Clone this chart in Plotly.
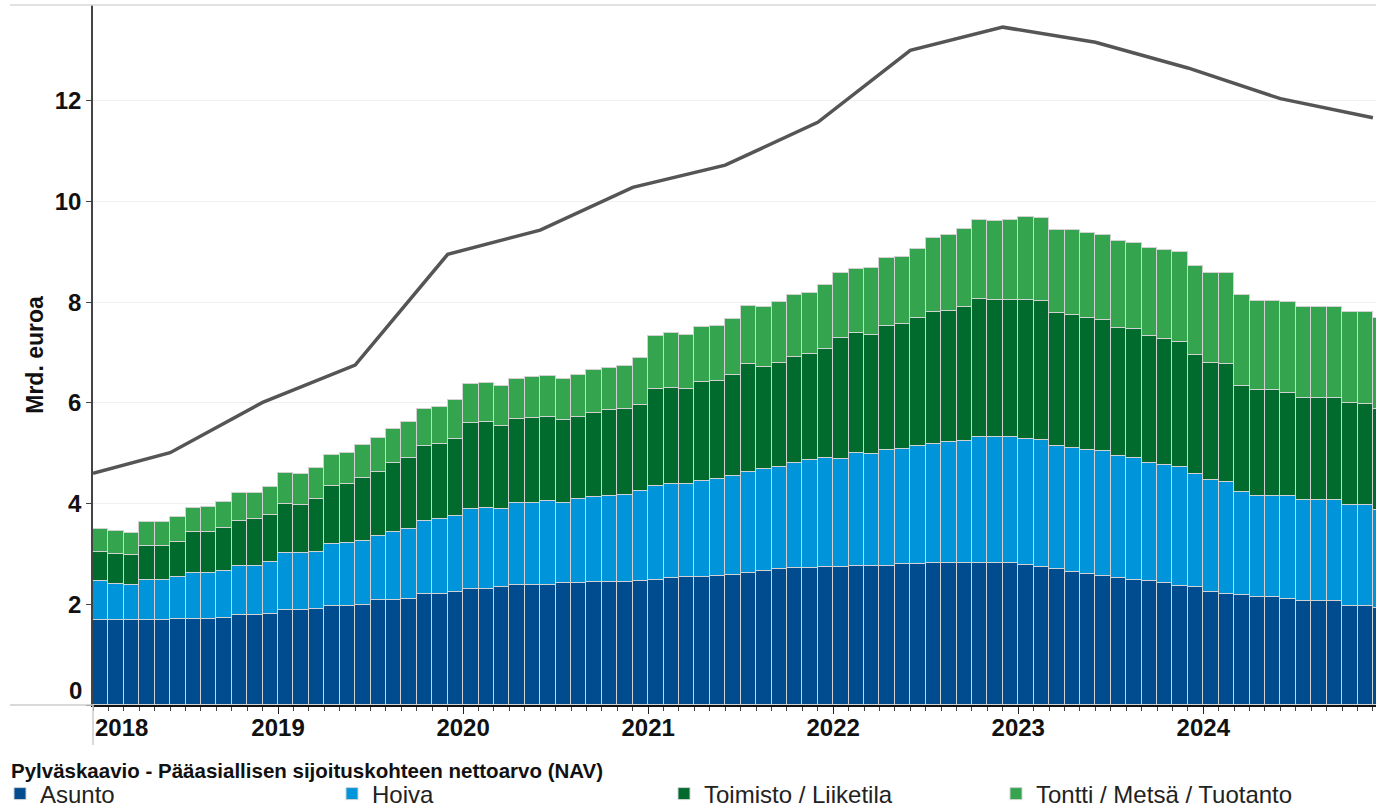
import plotly.graph_objects as go

# Monthly categories, Jan 2018 .. Dec 2024
months = [f"{y}-{m:02d}" for y in range(2018, 2025) for m in range(1, 13)]

# Stacked bar values (Mrd. euroa), one per month
asunto = [1.68, 1.68, 1.68, 1.68, 1.68, 1.70, 1.70, 1.70, 1.73, 1.78, 1.78, 1.81,
          1.88, 1.88, 1.91, 1.96, 1.96, 1.98, 2.09, 2.09, 2.11, 2.21, 2.21, 2.24,
          2.31, 2.31, 2.34, 2.39, 2.39, 2.39, 2.42, 2.42, 2.44, 2.44, 2.44, 2.46,
          2.49, 2.52, 2.54, 2.54, 2.56, 2.59, 2.62, 2.67, 2.70, 2.72, 2.72, 2.74,
          2.74, 2.77, 2.77, 2.77, 2.80, 2.80, 2.82, 2.82, 2.82, 2.82, 2.82, 2.82,
          2.78, 2.75, 2.70, 2.65, 2.60, 2.57, 2.52, 2.49, 2.46, 2.42, 2.36, 2.34,
          2.24, 2.21, 2.19, 2.14, 2.14, 2.11, 2.06, 2.06, 2.06, 1.96, 1.96, 1.93]
hoiva = [0.78, 0.73, 0.70, 0.80, 0.80, 0.84, 0.92, 0.92, 0.94, 0.99, 0.99, 1.02,
         1.13, 1.13, 1.12, 1.23, 1.25, 1.28, 1.27, 1.35, 1.38, 1.45, 1.48, 1.51,
         1.58, 1.61, 1.55, 1.63, 1.63, 1.66, 1.60, 1.68, 1.69, 1.71, 1.73, 1.79,
         1.86, 1.86, 1.84, 1.91, 1.92, 1.96, 2.01, 2.01, 2.03, 2.09, 2.14, 2.17,
         2.15, 2.24, 2.22, 2.30, 2.29, 2.34, 2.37, 2.40, 2.42, 2.50, 2.50, 2.50,
         2.51, 2.52, 2.44, 2.46, 2.47, 2.47, 2.42, 2.42, 2.35, 2.34, 2.37, 2.24,
         2.22, 2.22, 2.04, 2.01, 2.01, 2.04, 2.01, 2.01, 2.01, 2.01, 2.01, 1.94]
toimisto = [0.58, 0.59, 0.59, 0.67, 0.67, 0.69, 0.82, 0.82, 0.84, 0.89, 0.92, 0.94,
            0.98, 0.96, 1.07, 1.16, 1.17, 1.24, 1.26, 1.36, 1.42, 1.48, 1.50, 1.54,
            1.71, 1.70, 1.65, 1.65, 1.68, 1.67, 1.63, 1.62, 1.67, 1.70, 1.70, 1.70,
            1.93, 1.92, 1.90, 1.97, 1.96, 2.01, 2.14, 2.04, 2.06, 2.11, 2.11, 2.16,
            2.39, 2.37, 2.36, 2.46, 2.47, 2.54, 2.62, 2.61, 2.67, 2.74, 2.72, 2.72,
            2.75, 2.75, 2.65, 2.63, 2.62, 2.60, 2.54, 2.55, 2.52, 2.50, 2.48, 2.37,
            2.34, 2.35, 2.11, 2.10, 2.10, 2.05, 2.03, 2.03, 2.03, 2.03, 2.00, 2.00]
tontti = [0.46, 0.45, 0.45, 0.49, 0.49, 0.51, 0.47, 0.50, 0.53, 0.54, 0.51, 0.55,
          0.61, 0.61, 0.61, 0.61, 0.63, 0.66, 0.69, 0.69, 0.71, 0.73, 0.73, 0.76,
          0.78, 0.78, 0.80, 0.81, 0.81, 0.82, 0.83, 0.84, 0.86, 0.84, 0.87, 0.94,
          1.04, 1.08, 1.07, 1.08, 1.09, 1.10, 1.16, 1.19, 1.22, 1.22, 1.22, 1.27,
          1.29, 1.27, 1.32, 1.34, 1.34, 1.37, 1.47, 1.50, 1.55, 1.58, 1.58, 1.60,
          1.66, 1.65, 1.65, 1.70, 1.69, 1.69, 1.73, 1.72, 1.75, 1.77, 1.79, 1.77,
          1.77, 1.79, 1.80, 1.78, 1.78, 1.81, 1.81, 1.81, 1.81, 1.81, 1.84, 1.81]

# Line (gray) values at half-year points
line_months = ["2018-01", "2018-06", "2018-12", "2019-06", "2019-12", "2020-06",
               "2020-12", "2021-06", "2021-12", "2022-06", "2022-12", "2023-06",
               "2023-12", "2024-06", "2024-12"]
line_values = [4.60, 5.01, 6.01, 6.75, 8.95, 9.43, 10.28, 10.72, 11.57, 13.00,
               13.46, 13.16, 12.65, 12.04, 11.66]

year_labels = ["2018", "2019", "2020", "2021", "2022", "2023", "2024"]
y_ticks = [0, 2, 4, 6, 8, 10, 12]

series = [("Asunto", asunto, "#004c8f"),
          ("Hoiva", hoiva, "#0094da"),
          ("Toimisto / Liiketila", toimisto, "#006b2c"),
          ("Tontti / Metsä / Tuotanto", tontti, "#35a44f")]


def pos(label):  # month label -> position on the month axis
    y, m = label.split("-")
    return (int(y) - 2018) * 12 + int(m) - 1


FONT = "Liberation Sans, Arial, sans-serif"
W, H = 1376, 809
L, R, T, B = 93, 0, 5, 104
pw, ph = W - L - R, H - T - B
TXT = "#111111"


def px_x(x):  # page pixel -> paper x
    return (x - L) / pw


def px_y(y):  # page pixel -> paper y
    return (H - B - y) / ph


fig = go.Figure()
for name, vals, color in series:
    fig.add_trace(go.Bar(
        x=[pos(m) + 0.5 for m in months], y=vals, width=1, name=name,
        marker=dict(color=color, line=dict(color="#d2d2d2", width=1))))

fig.add_trace(go.Scatter(
    x=[pos(m) for m in line_months], y=line_values, mode="lines",
    line=dict(color="#555555", width=3.5), showlegend=False))

fig.update_layout(
    width=W, height=H,
    margin=dict(l=L, r=R, t=T, b=B, autoexpand=False),
    barmode="stack", bargap=0,
    plot_bgcolor="white", paper_bgcolor="white",
    font=dict(family=FONT, color=TXT),
    xaxis=dict(
        range=[0, 83.2], tickvals=[12 * i for i in range(len(year_labels))],
        ticktext=[""] + year_labels[1:], ticks="outside", ticklen=7,
        ticklabelstandoff=-7,
        tickcolor="#222222", tickwidth=1, showline=True, linecolor="#111111",
        linewidth=1.5, showgrid=False, zeroline=False, automargin=False,
        tickfont=dict(size=24, weight="bold", color=TXT),
        minor=dict(tickvals=list(range(84)), ticks="outside", ticklen=4,
                   tickcolor="#444444", showgrid=False)),
    yaxis=dict(
        range=[0, 13.9], tickvals=y_ticks,
        ticktext=[""] + [str(v) for v in y_ticks[1:]],
        ticks="outside", ticklen=5, tickcolor="#444444",
        showline=True, linecolor="#444444", linewidth=1.5,
        gridcolor="#f0f0f0", zeroline=False, automargin=False,
        tickfont=dict(size=24, weight="bold", color=TXT),
        title=dict(text="Mrd. euroa", standoff=5,
                   font=dict(size=23, weight="bold", color=TXT))),
    legend=dict(
        orientation="h", traceorder="normal",
        x=px_x(0), y=px_y(794), xanchor="left", yanchor="middle",
        entrywidth=287, entrywidthmode="pixels",
        font=dict(size=24, color="#222222")),
    annotations=[
        dict(text="<b>Pylväskaavio - Pääasiallisen sijoituskohteen nettoarvo (NAV)</b>",
             x=px_x(9), xref="paper", xanchor="left", y=px_y(770),
             yref="paper", yanchor="middle", showarrow=False,
             font=dict(size=20.5, color=TXT)),
        dict(text=year_labels[0], x=1.85, y=0, yref="paper", yanchor="middle",
             yshift=-22, showarrow=False,
             font=dict(size=24, weight="bold", color=TXT)),
        dict(text=str(y_ticks[0]), x=0, xref="paper", xanchor="right", xshift=-9,
             y=0.28, showarrow=False,
             font=dict(size=24, weight="bold", color=TXT))],
    shapes=[
        dict(type="line", xref="paper", yref="paper", x0=px_x(10), x1=1, y0=1, y1=1,
             line=dict(color="#d9d9d9", width=1.5)),
        dict(type="line", xref="paper", yref="paper", x0=px_x(10), x1=0, y0=0, y1=0,
             line=dict(color="#cccccc", width=1.5)),
        dict(type="line", xref="paper", yref="paper", x0=0, x1=0, y0=0, y1=px_y(745),
             line=dict(color="#cccccc", width=1.5))],
)

fig.write_html("out.html", config={"displayModeBar": False},
               post_script="document.body.style.margin='0';"
                           "document.body.style.overflow='hidden';")
